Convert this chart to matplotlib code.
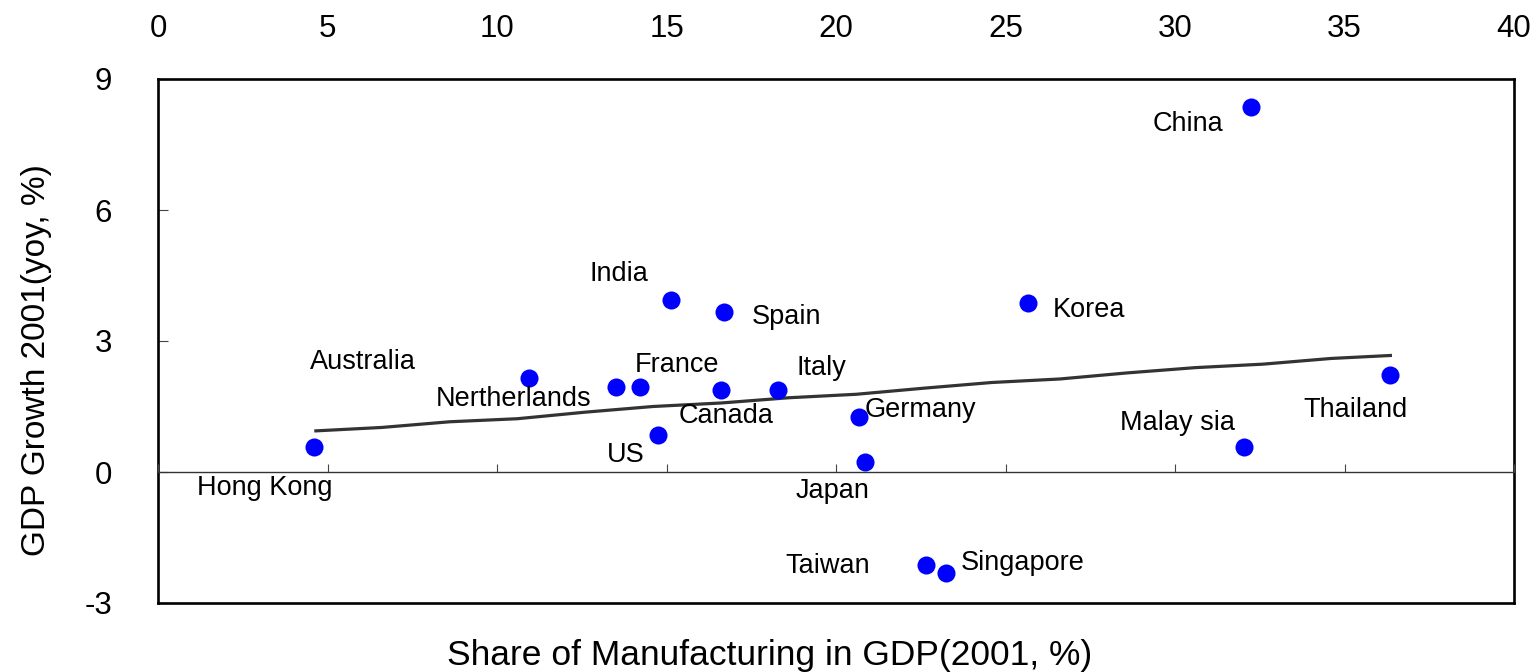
import matplotlib
matplotlib.use("Agg")
import matplotlib.pyplot as plt

plt.rcParams['font.family'] = ['Liberation Sans', 'DejaVu Sans']
plt.rcParams['axes.unicode_minus'] = False

# ---- data ----
countries = ["Hong Kong", "Australia", "Nertherlands", "France", "US", "India",
             "Canada", "Spain", "Italy", "Germany", "Japan", "Taiwan", "Singapore",
             "Korea", "Malay sia", "China", "Thailand"]
manuf_share = [4.61, 10.95, 13.51, 14.23, 14.76, 15.12,
               16.62, 16.70, 18.29, 20.68, 20.86, 22.65, 23.24,
               25.65, 32.04, 32.25, 36.35]
gdp_growth = [0.57, 2.15, 1.95, 1.95, 0.85, 3.94,
              1.88, 3.67, 1.88, 1.27, 0.23, -2.12, -2.31,
              3.88, 0.57, 8.35, 2.21]
# label anchor positions (data coords of label centers)
label_x = [3.16, 6.06, 10.5, 15.3, 13.8, 13.6,
           16.75, 18.55, 19.57, 22.5, 19.9, 19.76, 25.52,
           27.47, 30.08, 30.38, 35.33]
label_y = [-0.37, 2.53, 1.68, 2.46, 0.38, 4.53,
           1.28, 3.56, 2.38, 1.41, -0.43, -2.15, -2.08,
           3.70, 1.13, 7.96, 1.42]

trend_x = [4.61, 6.6, 8.6, 10.6, 12.6, 14.6, 16.6, 18.6, 20.6,
           22.6, 24.6, 26.6, 28.6, 30.6, 32.6, 34.6, 36.4]
trend_y = [0.94, 1.02, 1.15, 1.22, 1.37, 1.50, 1.58, 1.70, 1.78,
           1.92, 2.05, 2.13, 2.27, 2.39, 2.47, 2.60, 2.67]

x_ticks = [0, 5, 10, 15, 20, 25, 30, 35, 40]
y_ticks = [-3, 0, 3, 6, 9]
x_label = "Share of Manufacturing in GDP(2001, %)"
y_label = "GDP Growth 2001(yoy, %)"

# ---- figure ----
fig = plt.figure(figsize=(15.37, 6.72), dpi=100)
ax = fig.add_axes([158/1537, 69/672, 1356/1537, 524/672])
ax.set_xlim(0, 40)
ax.set_ylim(-3, 9)

# zero axis line with inward ticks (twin axis sharing y)
ax2 = ax.twiny()
ax2.set_xlim(0, 40)
ax2.set_xticks(x_ticks)
for name, s in ax2.spines.items():
    s.set_visible(name == 'bottom')
ax2.spines['bottom'].set_position(('data', 0))
ax2.spines['bottom'].set_linewidth(1.0)
ax2.spines['bottom'].set_color('#333333')
ax2.xaxis.set_ticks_position('bottom')
ax2.tick_params(axis='x', direction='in', length=6, width=0.8, color='#444444',
                labelbottom=False, labeltop=False, top=False)

for s in ax.spines.values():
    s.set_linewidth(1.9)
    s.set_color('black')

# top tick labels, no marks
ax.set_xticks(x_ticks)
ax.tick_params(axis='x', which='both', top=False, bottom=False,
               labeltop=True, labelbottom=False, labelsize=22.5, pad=22)
ax.set_yticks(y_ticks)
ax.tick_params(axis='y', direction='in', length=7.5, width=0.8, color='#444444',
               labelsize=22.5, pad=33, right=False)

ax.plot(trend_x, trend_y, color='#333333', lw=2.3, zorder=3, solid_capstyle='butt')
ax.plot(manuf_share, gdp_growth, 'o', color='#0000FF', ms=13, mec='none', zorder=4,
        clip_on=False)

for name, lx, ly in zip(countries, label_x, label_y):
    ax.text(lx, ly, name, ha='center', va='center', fontsize=19.5, color='black', zorder=5)

fig.text(0.501, 0.025, x_label, ha='center', va='center', fontsize=25.5)
fig.text(0.024, 1 - 360/672, y_label, ha='center', va='center', rotation=90,
         fontsize=24)

fig.savefig("out.png", dpi=100, facecolor='white')
